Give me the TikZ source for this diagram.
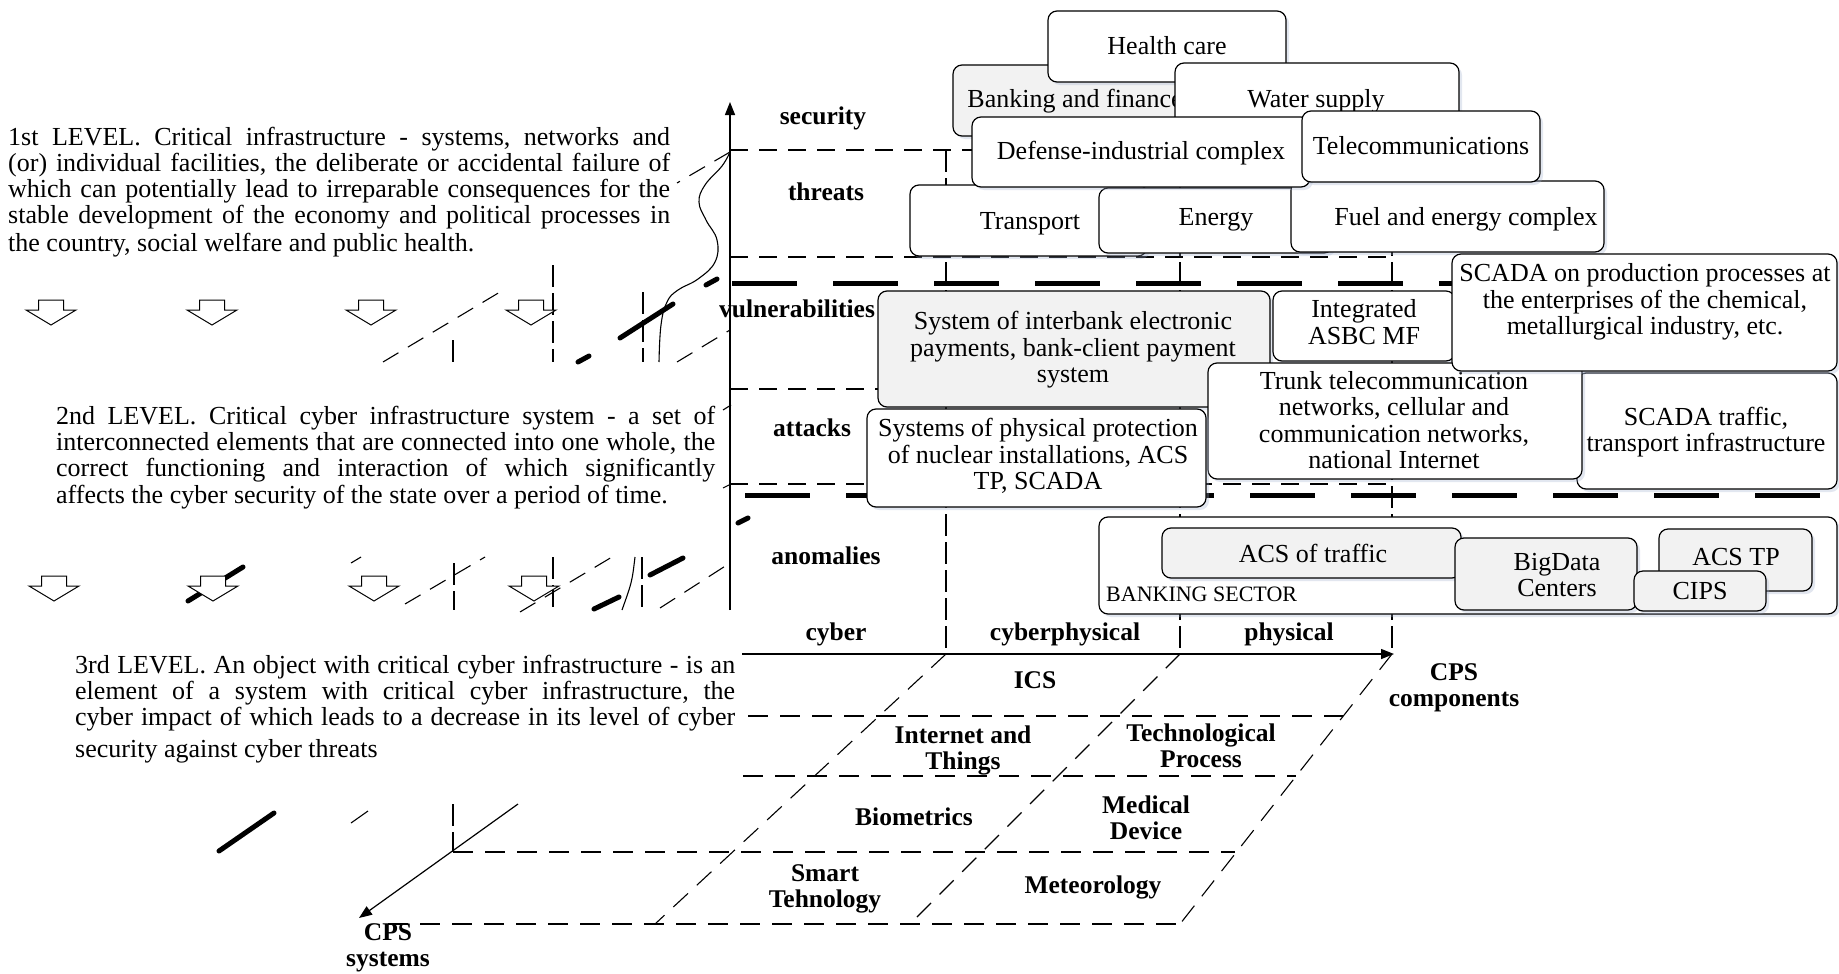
\documentclass[tikz,border=0pt]{standalone}
\usepackage{fontspec}
\setmainfont{Liberation Serif}
\usetikzlibrary{arrows.meta,shadows}

\definecolor{boxgray}{RGB}{242,242,242}
\definecolor{shadowc}{RGB}{160,175,205}

\newcommand\txtfont{\fontsize{26}{26}\selectfont}
\newcommand\boxfont{\fontsize{26}{26.5}\selectfont}
\newcommand\labfont{\bfseries\fontsize{25.5}{26}\selectfont}
\newcommand\secfont{\fontsize{22}{22}\selectfont}
% one justified line of a paragraph
\newcommand\jrow[1]{\hbox to\hsize{#1}}
% rounded box: name, style, x1, y1, x2, y2
\newcommand\cbox[6]{%
  \node[#2, minimum width={#5-#3}, minimum height={#6-#4}] (#1) at ({(#3+#5)/2},{(#4+#6)/2}) {};}

\tikzset{
  axisline/.style={line width=1.4pt},
  thindash/.style={line width=1.1pt, dash pattern=on 18pt off 11pt},
  griddash/.style={line width=1.1pt, dash pattern=on 20pt off 12pt},
  coldash/.style={line width=1.1pt, dash pattern=on 22pt off 6pt},
  thickdash/.style={line width=5pt, dash pattern=on 65pt off 36pt},
  fragthick/.style={line width=5pt, line cap=round},
  fragthin/.style={line width=1.1pt},
  blockarr/.style={draw, fill=white, line width=1pt, line join=miter},
  box/.style={draw, line width=1.2pt, rounded corners=9pt, fill=white, inner sep=0pt,
    drop shadow={shadow xshift=3pt, shadow yshift=-3pt, opacity=0.3, fill=shadowc}},
  graybox/.style={box, fill=boxgray},
  boxtxt/.style={font=\boxfont, align=center, inner sep=0pt},
  lab/.style={font=\labfont, align=center, inner sep=0pt},
  para/.style={font=\txtfont, inner sep=0pt, anchor=base west},
  tip/.style={-{Triangle[length=13pt,width=10pt]}},
}

\begin{document}
\begin{tikzpicture}[x=1pt,y=-1pt]
\useasboundingbox (0,0) rectangle (1839,974);

% ---------------- level descriptions ----------------
\node[para] (lvl1) at (8,145) {\frenchspacing\vtop{\hsize=662pt\baselineskip=26pt
  \jrow{1st LEVEL. Critical infrastructure - systems, networks and}
  \jrow{(or) individual facilities, the deliberate or accidental failure of}
  \jrow{which can potentially lead to irreparable consequences for the}
  \jrow{stable development of the economy and political processes in}
  \vskip2pt
  \hbox{the country, social welfare and public health.}}};

\node[para] (lvl2) at (56,424) {\frenchspacing\vtop{\hsize=659pt\baselineskip=26pt
  \jrow{2nd LEVEL. Critical cyber infrastructure system - a set of}
  \jrow{interconnected elements that are connected into one whole, the}
  \jrow{correct functioning and interaction of which significantly}
  \vskip1pt
  \hbox{affects the cyber security of the state over a period of time.}}};

\node[para] (lvl3) at (75,673) {\frenchspacing\vtop{\hsize=660pt\baselineskip=26pt
  \jrow{3rd LEVEL. An object with critical cyber infrastructure - is an}
  \jrow{element of a system with critical cyber infrastructure, the}
  \jrow{cyber impact of which leads to a decrease in its level of cyber}
  \vskip6pt
  \hbox{security against cyber threats}}};

% ---------------- broken strips of lines ----------------
% upper strip
\draw[thindash] (383,362) -- (500,292);
\draw[coldash] (453,340) -- (453,362);
\draw[coldash] (553,265) -- (553,362);
\draw[coldash] (643,292) -- (643,362);
\draw[fragthick] (620,338) -- (673,304);
\draw[fragthick] (578,362) -- (589,356);
\draw[fragthick] (706,285) -- (717,279);
\draw[thindash] (677,362) -- (730,330);
\draw[thindash] (730,152) -- (677,183);
\draw[fragthin] plot[smooth, tension=0.7] coordinates {(730,152) (722,166) (705,185) (699,202) (706,220) (717,240) (715,262) (698,279) (678,290) (667,302) (661,325) (659,362)};
% middle strip
\draw[fragthick] (188,601) -- (243,567);
\draw[fragthin] (351,563) -- (361,557);
\draw[thindash] (405,604) -- (485,557);
\draw[coldash] (454,563) -- (454,610);
\draw[coldash] (553,557) -- (553,610);
\draw[fragthick] (594,609) -- (619,597);
\draw[fragthin] (635,557) .. controls (632,582) .. (622,610);
\draw[coldash] (642,557) -- (642,610);
\draw[fragthick] (650,575) -- (683,558);
\draw[thindash] (660,608) -- (730,563);
\draw[fragthin] (723,410) -- (731,405);
\draw[fragthin] (723,488) -- (731,484);
\draw[fragthick] (738,523) -- (748,518);
% lower strip
\draw[fragthick] (219,851) -- (274,813);
\draw[fragthin] (351,823) -- (368,811);
\draw[coldash] (453,804) -- (453,852);

% ---------------- block arrows ----------------
\foreach \x/\t in {51/300,212/300,371/300,531/300,54/576,213/576,374/576,534/576}
  \draw[blockarr] (\x-12.5,\t) -- (\x+12.5,\t) -- (\x+12.5,\t+10) -- (\x+25,\t+10)
    -- (\x,\t+25) -- (\x-25,\t+10) -- (\x-12.5,\t+10) -- cycle;
\draw[thindash] (520,612) -- (612,557);

% ---------------- level grid of the axis panel ----------------
\draw[thindash] (730,150) -- (1100,150);
\draw[thindash] (730,257) -- (1392,257);
\draw[thindash] (730,389) -- (900,389);
\draw[thindash] (730,484) -- (1392,484);
\draw[thickdash] (732,283) -- (1839,283);
\draw[thickdash] (745,495) -- (1839,495);
\draw[coldash] (946,150) -- (946,653);
\draw[coldash] (1180,150) -- (1180,653);
\draw[coldash] (1392,150) -- (1392,653);

% ---------------- axes ----------------
\coordinate (vbot) at (730,610);
\coordinate (vtop) at (730,102);
\coordinate (hleft) at (742,654);
\coordinate (hright) at (1394,654);
\coordinate (sysstart) at (518,804);
\coordinate (systip) at (359,918);
\draw[axisline, tip] (vbot) -- (vtop);
\draw[axisline, tip] (hleft) -- (hright);
\draw[line width=1.2pt, tip] (sysstart) -- (systip);

% ---------------- CPS systems grid ----------------
\draw[griddash] (946,654) -- (655,924);
\draw[griddash] (1180,654) -- (910,924);
\draw[griddash] (1392,654) -- (1180,924);
\draw[griddash] (748,716) -- (1343,716);
\draw[griddash] (743,776) -- (1296,776);
\draw[griddash] (453,852) -- (1235,852);
\draw[griddash] (388,924) -- (1180,924);

% ---------------- infrastructure boxes ----------------
\cbox{bank}{graybox}{953}{65}{1183}{136}
\node[boxtxt] (bank-t) at (1075,101) {Banking and finance};
\cbox{health}{box}{1048}{11}{1286}{82}
\node[boxtxt] (health-t) at (1167,46) {Health care};
\cbox{water}{box}{1175}{63}{1459}{134}
\node[boxtxt] (water-t) at (1316,101) {Water supply};
\cbox{transp}{box}{910}{185}{1147}{256}
\node[boxtxt] (transp-t) at (1030,224) {Transport};
\cbox{energy}{box}{1099}{188}{1333}{253}
\node[boxtxt] (energy-t) at (1216,220) {Energy};
\cbox{fuel}{box}{1291}{181}{1604}{252}
\node[boxtxt] (fuel-t) at (1466,219) {Fuel and energy complex};
\cbox{defense}{box}{972}{117}{1310}{187}
\node[boxtxt] (defense-t) at (1141,153) {Defense-industrial complex};
\cbox{telecom}{box}{1302}{111}{1540}{182}
\node[boxtxt] (telecom-t) at (1421,146) {Telecommunications};

\cbox{interbank}{graybox}{878}{291}{1270}{407}
\node[boxtxt] (interbank-t) at (1073,350) {System of interbank electronic\\payments, bank-client payment\\system};
\cbox{asbc}{box}{1273}{291}{1455}{361}
\node[boxtxt] (asbc-t) at (1364,322) {Integrated\\ASBC MF};
\cbox{scadatr}{box}{1577}{373}{1837}{489}
\node[boxtxt] (scadatr-t) at (1706,432) {SCADA traffic,\\transport infrastructure};
\cbox{trunk}{box}{1208}{363}{1582}{479}
\node[boxtxt] (trunk-t) at (1394,420) {Trunk telecommunication\\networks, cellular and\\communication networks,\\national Internet};
\cbox{scadapr}{box}{1452}{254}{1837}{371}
\node[boxtxt] (scadapr-t) at (1645,302) {SCADA on production processes at\\the enterprises of the chemical,\\metallurgical industry, etc.};
\cbox{nuclear}{box}{867}{409}{1206}{507}
\node[boxtxt] (nuclear-t) at (1038,456) {Systems of physical protection\\of nuclear installations, ACS\\TP, SCADA};

\cbox{banking}{box}{1099}{517}{1837}{614}
\node[font=\secfont, inner sep=0pt, anchor=west] (banking-t) at (1106,594) {BANKING SECTOR};
\cbox{acstraf}{graybox}{1162}{528}{1461}{578}
\node[boxtxt] (acstraf-t) at (1313,553) {ACS of traffic};
\cbox{bigdata}{graybox}{1455}{538}{1637}{610}
\node[boxtxt] (bigdata-t) at (1557,575) {BigData\\Centers};
\cbox{acstp}{graybox}{1659}{529}{1812}{591}
\node[boxtxt] (acstp-t) at (1736,557) {ACS TP};
\cbox{cips}{graybox}{1634}{571}{1766}{611}
\node[boxtxt] (cips-t) at (1700,591) {CIPS};

% ---------------- axis labels ----------------
\node[lab] (security) at (823,118) {security};
\node[lab] (threats) at (826,192) {threats};
\node[lab] (vulner) at (797,309) {vulnerabilities};
\node[lab] (attacks) at (812,428) {attacks};
\node[lab] (anomalies) at (826,556) {anomalies};
\node[lab] (cyber) at (836,634) {cyber};
\node[lab] (cyberphys) at (1065,634) {cyberphysical};
\node[lab] (physical) at (1289,634) {physical};
\node[lab] (components) at (1454,688) {CPS\\components};
\node[lab] (systems) at (388,948) {CPS\\systems};

\node[lab] (ics) at (1035,680) {ICS};
\node[lab] (iot) at (963,750) {Internet and\\Things};
\node[lab] (techproc) at (1201,746) {Technological\\Process};
\node[lab] (biometrics) at (914,817) {Biometrics};
\node[lab] (medical) at (1146,818) {Medical\\Device};
\node[lab] (smart) at (825,889) {Smart\\Tehnology};
\node[lab] (meteo) at (1093,887) {Meteorology};
\end{tikzpicture}
\end{document}
